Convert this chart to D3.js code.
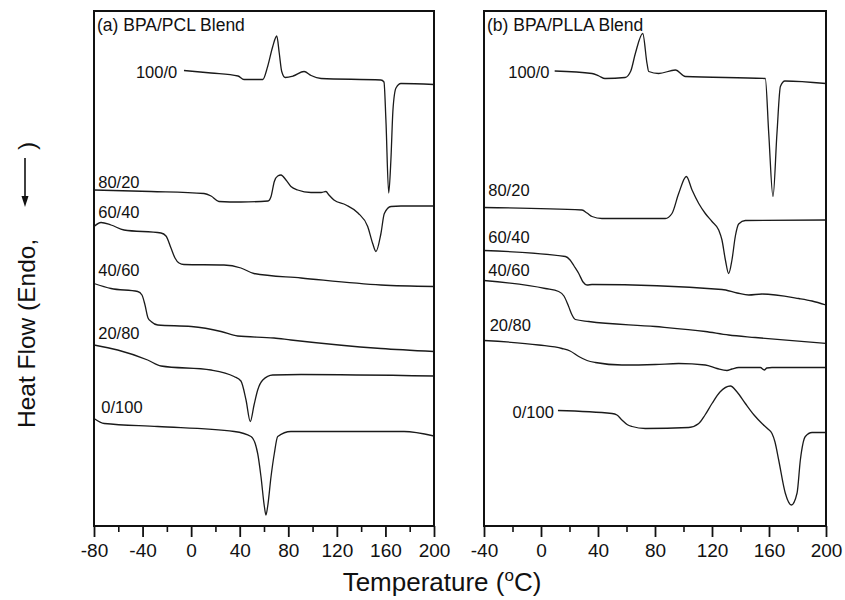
<!DOCTYPE html>
<html>
<head>
<meta charset="utf-8">
<script src="https://cdn.jsdelivr.net/npm/d3@7"></script>
<style>
  html, body { margin: 0; padding: 0; background: #fff; }
  svg { display: block; font-family: "Liberation Sans", Arial, Helvetica, sans-serif; }
</style>
</head>
<body>
<script>
// ---------- DATA (temperature °C, heat flow in arbitrary units, offset curves) ----------
const ratios = ["100/0", "80/20", "60/40", "40/60", "20/80", "0/100"];

// (a) BPA/PCL blends
const pcl100_0 = [[-5.9,91.1],[16.4,90.6],[38.6,90.0],[43.5,89.3],[59,89.3],[63.0,91.9],[67.2,95.9],[70.5,98.0],[72.6,94.5],[74.6,90.9],[77.5,89.7],[84,90.0],[93,90.9],[98.8,90.1],[107,89.5],[156.3,89.2],[158.8,88.8],[160.4,81.2],[162.7,66.6],[164.5,73.2],[166.2,83.2],[168.7,87.6],[172.8,88.5],[200,88.3]];
const pcl80_20 = [[-80,67.2],[-33,66.9],[10.6,66.5],[16.4,66.0],[22.9,64.9],[41,64.8],[63.3,65.0],[65.8,65.9],[68.5,68.9],[71.3,70.0],[74,70.2],[78.1,69.2],[82.2,67.9],[87.7,67.2],[98.7,66.7],[107,66.7],[111,66.9],[113.5,66.2],[117.6,65.2],[127.5,64.2],[137.4,62.6],[145.4,59.9],[149.5,56.5],[152.2,54.9],[156.3,58.5],[159.1,62.5],[164.6,63.9],[172.8,64.0],[200,64.0]];
const pcl60_40 = [[-80,59.9],[-74.2,60.7],[-66,60.2],[-55.3,59.2],[-24.8,58.6],[-20.7,58.0],[-16.6,55.6],[-13.3,53.6],[-10,52.6],[-5.9,52.3],[27,52.2],[41,51.6],[51.7,50.5],[90.5,49.6],[156.3,48.2],[200,47.9]];
const pcl40_60 = [[-80,48.5],[-66,47.5],[-44,46.9],[-40.5,46.2],[-38,44.2],[-35.5,41.6],[-33,40.9],[-27.5,40.2],[0.1,39.9],[24.6,38.9],[38.3,38.0],[68.2,37.6],[82.2,37.2],[156.3,35.5],[200,34.9]];
const pcl20_80 = [[-80,36.2],[-60.5,35.2],[-35.8,33.2],[-24.8,32.0],[16.4,31.2],[35.3,29.9],[41,29.0],[45.2,25.2],[48.7,20.9],[51.8,24.2],[54.8,27.2],[59,29.2],[67.2,30.2],[90.5,30.3],[200,30.0]];
const pcl0_100 = [[-80,21.5],[-71.5,20.5],[-27.5,19.9],[35.5,18.9],[49.3,17.9],[54.8,14.5],[57.5,9.9],[60.3,3.9],[61.6,2.2],[63,3.9],[65.8,9.9],[68.5,14.5],[71.3,17.9],[82.2,18.9],[175.3,18.9],[200,18.0]];

// (b) BPA/PLLA blends
const plla100_0 = [[9.6,91.0],[35.8,90.5],[40.7,90.0],[44.9,89.5],[59,89.7],[63,91.0],[66.2,94.5],[71.4,98.5],[74.4,92.5],[75.6,90.9],[82.6,90.5],[94.3,91.2],[101.3,89.9],[157.4,89.5],[159.8,78.6],[162.8,65.9],[165.6,78.6],[168,87.9],[171.2,89.0],[200,88.5]];
const plla80_20 = [[-40,63.7],[28.8,63.2],[32.3,62.6],[35.8,61.9],[42.8,61.5],[87.2,61.5],[91.9,62.5],[96.6,66.5],[102,69.9],[106,67.2],[110.7,64.5],[115.3,62.5],[120,60.9],[124.7,59.2],[127,57.2],[129.4,53.2],[131.7,50.5],[134,53.2],[136.4,58.0],[138.7,60.4],[143.4,61.1],[200,61.2]];
const plla60_40 = [[-40,55.1],[17.1,53.9],[20.4,53.2],[23.2,52.0],[26.5,50.5],[29.5,48.8],[32.3,48.2],[35.8,48.3],[127,47.3],[137.6,46.6],[145.8,46.2],[155.1,46.4],[180.9,45.5],[190.2,45.0],[200,44.2]];
const plla40_60 = [[-40,49.1],[3,47.5],[12.4,46.9],[16.1,46.0],[19.4,43.9],[21.8,42.2],[24.1,41.3],[33.5,40.9],[80.2,39.9],[115.3,38.9],[131.7,38.2],[150.4,37.7],[200,36.5]];
const plla20_80 = [[-40,37.1],[-1.6,36.2],[14.7,35.5],[20.4,35.0],[26.5,33.9],[32.3,33.1],[38.1,32.7],[56.8,32.2],[80.2,32.3],[96.6,32.5],[115.3,32.2],[123.5,31.5],[130.5,31.1],[134,31.4],[138.7,31.7],[153.9,31.7],[156.7,31.2],[158.5,31.6],[162.1,31.7],[200,31.7]];
const plla0_100 = [[11.9,23.1],[49.8,22.5],[53.3,22.2],[56.8,21.2],[60.4,20.3],[63.9,19.9],[73.2,19.5],[103.7,19.7],[110.7,20.5],[115.1,22.2],[120,24.5],[125.6,26.8],[132.9,28.0],[137.6,26.8],[143.4,24.5],[149.5,22.2],[155.1,20.5],[159.3,19.4],[162.1,18.5],[164.2,16.8],[166.8,13.2],[171.4,6.6],[175.7,4.2],[179.7,6.6],[182,13.2],[185.5,17.9],[190.2,18.7],[200,18.7]];

// label anchors (temperature, heat-flow value, anchor)
const labelsA = [[-11.5,89.6,"end"],[-76.5,67.6,"start"],[-76.5,61.7,"start"],[-76.5,50.0,"start"],[-76.5,37.4,"start"],[-74.0,22.7,"start"]];
const labelsB = [[6.0,89.7,"end"],[-37.0,66.0,"start"],[-37.0,56.6,"start"],[-37.0,50.0,"start"],[-36.0,39.0,"start"],[9.0,21.7,"end"]];

const majorA = [-80,-40,0,40,80,120,160,200];
const minorA = [-60,-20,20,60,100,140,180];
const majorB = [-40,0,40,80,120,160,200];
const minorB = [-20,20,60,100,140,180];

const titleA = "(a) BPA/PCL Blend";
const titleB = "(b) BPA/PLLA Blend";
const xTitle = "Temperature (";
const yTitle = "Heat Flow (Endo,";

// ---------- DRAW ----------
const W = 845, H = 600;
const svg = d3.select("body").append("svg").attr("width", W).attr("height", H);
const y = d3.scaleLinear().domain([0, 103]).range([526, 11]);

const panels = [
  { x: d3.scaleLinear().domain([-80, 200]).range([94, 434]), series: [pcl100_0, pcl80_20, pcl60_40, pcl40_60, pcl20_80, pcl0_100], labels: labelsA, major: majorA, minor: minorA, title: titleA },
  { x: d3.scaleLinear().domain([-40, 200]).range([484, 826]), series: [plla100_0, plla80_20, plla60_40, plla40_60, plla20_80, plla0_100], labels: labelsB, major: majorB, minor: minorB, title: titleB }
];

panels.forEach(p => {
  const g = svg.append("g");
  const [x0, x1] = p.x.range();
  const [yb, yt] = y.range();

  const line = d3.line().x(d => p.x(d[0])).y(d => y(d[1])).curve(d3.curveMonotoneX);
  g.selectAll("path.curve").data(p.series).join("path")
    .attr("class", "curve")
    .attr("d", line)
    .attr("fill", "none")
    .attr("stroke", "#1a1a1a")
    .attr("stroke-width", 1.3);

  g.selectAll("text.lab").data(p.labels).join("text")
    .attr("class", "lab")
    .attr("x", d => p.x(d[0]))
    .attr("y", d => y(d[1]))
    .attr("text-anchor", d => d[2])
    .attr("font-size", 16.5)
    .attr("fill", "#111")
    .text((d, i) => ratios[i]);

  g.append("text")
    .attr("x", x0 + 3)
    .attr("y", yt + 20)
    .attr("font-size", 17.5)
    .attr("fill", "#111")
    .text(p.title);

  // minor ticks
  g.append("g").attr("transform", `translate(0,${yb})`)
    .call(d3.axisBottom(p.x).tickValues(p.minor).tickSize(6).tickFormat(""))
    .call(a => a.select(".domain").remove())
    .call(a => a.selectAll("line").attr("stroke", "#111").attr("stroke-width", 1.6));
  // major ticks
  g.append("g").attr("transform", `translate(0,${yb})`)
    .call(d3.axisBottom(p.x).tickValues(p.major).tickSize(11).tickPadding(7).tickFormat(d => String(d)))
    .call(a => a.select(".domain").remove())
    .call(a => a.selectAll("line").attr("stroke", "#111").attr("stroke-width", 1.8))
    .call(a => a.selectAll("text").attr("font-size", 19).attr("fill", "#111")
      .attr("font-family", "'Liberation Sans', Arial, sans-serif"));

  g.append("rect")
    .attr("x", x0).attr("y", yt)
    .attr("width", x1 - x0).attr("height", yb - yt)
    .attr("fill", "none").attr("stroke", "#111").attr("stroke-width", 2);
});

// x title
const xt = svg.append("text")
  .attr("x", 442).attr("y", 591)
  .attr("text-anchor", "middle")
  .attr("font-size", 26)
  .attr("fill", "#111");
xt.append("tspan").text(xTitle);
xt.append("tspan").attr("font-size", 17).attr("dy", -10).text("o");
xt.append("tspan").attr("dy", 10).text("C)");

// y title
svg.append("text")
  .attr("transform", "translate(35,428) rotate(-90)")
  .attr("font-size", 24.5)
  .attr("fill", "#111")
  .text(yTitle);
svg.append("text")
  .attr("transform", "translate(35,150) rotate(-90)")
  .attr("font-size", 24.5)
  .attr("fill", "#111")
  .text(")");
svg.append("line")
  .attr("x1", 25).attr("x2", 25).attr("y1", 158).attr("y2", 200)
  .attr("stroke", "#111").attr("stroke-width", 1.6);
svg.append("path")
  .attr("d", d3.line()([[21.5, 196], [28.5, 196], [25, 207]]) + "Z")
  .attr("fill", "#111");
</script>
</body>
</html>
